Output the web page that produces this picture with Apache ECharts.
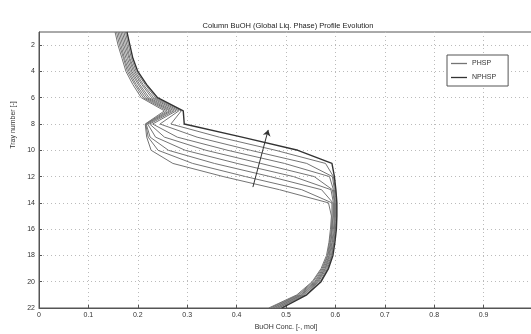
<!DOCTYPE html>
<html>
<head>
<meta charset="utf-8">
<script src="https://cdn.jsdelivr.net/npm/echarts@6/dist/echarts.min.js"></script>
<style>
  html, body { margin: 0; padding: 0; background: #fff; }
  #chart { width: 531px; height: 334px; }
</style>
</head>
<body>
<div id="chart"></div>
<script>
// Tray numbers (1 = top of column)
const trays = [1, 2, 3, 4, 5, 6, 7, 8, 9, 10, 11, 12, 13, 14, 15, 16, 17, 18, 19, 20, 21, 22];

// BuOH liquid-phase concentration per tray, successive PHSP profiles
const phsp1 = [0.154, 0.160, 0.168, 0.176, 0.190, 0.207, 0.254, 0.215, 0.218, 0.227, 0.271, 0.373, 0.487, 0.586, 0.592, 0.590, 0.587, 0.582, 0.571, 0.553, 0.522, 0.465];
const phsp2 = [0.157, 0.163, 0.171, 0.179, 0.194, 0.211, 0.259, 0.216, 0.221, 0.241, 0.311, 0.418, 0.532, 0.593, 0.593, 0.592, 0.588, 0.584, 0.573, 0.555, 0.525, 0.468];
const phsp3 = [0.160, 0.166, 0.173, 0.182, 0.197, 0.215, 0.264, 0.217, 0.225, 0.262, 0.355, 0.468, 0.572, 0.595, 0.595, 0.593, 0.590, 0.585, 0.575, 0.558, 0.527, 0.472];
const phsp4 = [0.163, 0.169, 0.176, 0.185, 0.201, 0.219, 0.268, 0.220, 0.236, 0.296, 0.401, 0.515, 0.591, 0.596, 0.596, 0.594, 0.591, 0.587, 0.577, 0.560, 0.530, 0.475];
const phsp5 = [0.166, 0.172, 0.179, 0.188, 0.204, 0.223, 0.273, 0.224, 0.254, 0.338, 0.449, 0.557, 0.594, 0.598, 0.598, 0.596, 0.593, 0.588, 0.579, 0.562, 0.532, 0.479];
const phsp6 = [0.169, 0.175, 0.182, 0.191, 0.208, 0.228, 0.278, 0.230, 0.280, 0.382, 0.497, 0.588, 0.596, 0.599, 0.599, 0.598, 0.594, 0.590, 0.580, 0.564, 0.535, 0.482];
const phsp7 = [0.172, 0.178, 0.184, 0.194, 0.211, 0.232, 0.283, 0.245, 0.320, 0.428, 0.542, 0.594, 0.598, 0.600, 0.600, 0.599, 0.596, 0.592, 0.582, 0.566, 0.537, 0.485];
const phsp8 = [0.175, 0.181, 0.187, 0.197, 0.215, 0.236, 0.288, 0.267, 0.365, 0.479, 0.580, 0.596, 0.600, 0.602, 0.602, 0.600, 0.597, 0.593, 0.584, 0.569, 0.540, 0.489];

// NPHSP profile
const nphsp = [0.178, 0.184, 0.190, 0.200, 0.218, 0.240, 0.292, 0.294, 0.411, 0.524, 0.593, 0.598, 0.601, 0.603, 0.603, 0.602, 0.599, 0.595, 0.586, 0.571, 0.542, 0.492];

// Direction of the profile evolution (conc, tray)
const arrowFrom = [0.433, 12.8];
const arrowTo = [0.464, 8.45];

// Axis ticks
const yTicks = [2, 4, 6, 8, 10, 12, 14, 16, 18, 20, 22];

const phspRuns = [phsp1, phsp2, phsp3, phsp4, phsp5, phsp6, phsp7, phsp8];
const toPoints = (conc) => trays.map((t, i) => [conc[i], t]);

const font = 'Liberation Sans, Arial, sans-serif';
const labelStyle = { fontFamily: font, fontSize: 7, color: '#333' };
const phspColor = '#747474';
const nphspColor = '#333333';

const series = phspRuns.map((run) => ({
  name: 'PHSP',
  type: 'line',
  data: toPoints(run),
  symbol: 'none',
  lineStyle: { color: phspColor, width: 1 },
  itemStyle: { color: phspColor },
  silent: true,
  z: 2
}));

series.push({
  name: 'NPHSP',
  type: 'line',
  data: toPoints(nphsp),
  symbol: 'none',
  lineStyle: { color: nphspColor, width: 1.4 },
  itemStyle: { color: nphspColor },
  silent: true,
  z: 3
});

series.push({
  name: 'evolution',
  type: 'lines',
  coordinateSystem: 'cartesian2d',
  symbol: ['none', 'arrow'],
  symbolSize: 6,
  lineStyle: { color: '#333', width: 1, opacity: 1 },
  data: [{ coords: [arrowFrom, arrowTo] }],
  silent: true,
  z: 4
});

const chart = echarts.init(document.getElementById('chart'), null, { renderer: 'canvas' });
chart.setOption({
  animation: false,
  backgroundColor: '#fff',
  title: {
    text: 'Column BuOH (Global Liq. Phase) Profile Evolution',
    left: 283,
    top: 17,
    textAlign: 'center',
    textStyle: { fontFamily: font, fontSize: 7.5, fontWeight: 'normal', color: '#222' }
  },
  legend: {
    data: [
      { name: 'PHSP', icon: 'rect', itemStyle: { color: phspColor } },
      { name: 'NPHSP', icon: 'rect', itemStyle: { color: nphspColor } }
    ],
    orient: 'vertical',
    left: 447,
    top: 55,
    itemWidth: 16,
    itemHeight: 1.3,
    itemGap: 7,
    padding: [5, 12, 5, 4],
    borderColor: '#555',
    borderWidth: 1,
    backgroundColor: '#fff',
    textStyle: { fontFamily: font, fontSize: 7, color: '#333' }
  },
  grid: {
    left: 39,
    right: -2,
    top: 32,
    bottom: 26,
    outerBoundsMode: 'none',
    show: true,
    borderColor: '#555',
    borderWidth: 1,
    backgroundColor: 'transparent'
  },
  xAxis: {
    type: 'value',
    min: 0,
    max: 1,
    interval: 0.1,
    name: 'BuOH Conc. [-, mol]',
    nameLocation: 'middle',
    nameGap: 15,
    nameTextStyle: { fontFamily: font, fontSize: 7, color: '#333' },
    axisLine: { lineStyle: { color: '#555' } },
    axisTick: { inside: true, length: 3, lineStyle: { color: '#555' } },
    axisLabel: Object.assign({ margin: 4, formatter: (v) => String(Math.round(v * 10) / 10) }, labelStyle),
    splitLine: { show: true, lineStyle: { color: '#bbb', type: [1, 3], width: 1 } }
  },
  yAxis: {
    type: 'value',
    inverse: true,
    min: 1,
    max: 22,
    name: 'Tray number [-]',
    nameLocation: 'middle',
    nameGap: 20,
    nameRotate: 90,
    nameTextStyle: { fontFamily: font, fontSize: 7, color: '#333', padding: [0, 0, 0, 90] },
    axisLine: { lineStyle: { color: '#555' } },
    axisTick: { inside: true, length: 3, customValues: yTicks, lineStyle: { color: '#555' } },
    axisLabel: Object.assign({ margin: 4, customValues: yTicks }, labelStyle),
    splitLine: { show: true, lineStyle: { color: '#bbb', type: [1, 3], width: 1 } }
  },
  series: series
});
</script>
</body>
</html>
